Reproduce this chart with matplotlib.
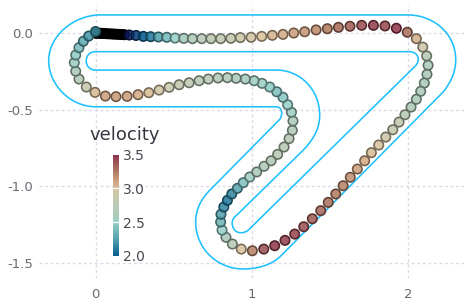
import numpy as np
import matplotlib
matplotlib.use('Agg')
import matplotlib.pyplot as plt
from matplotlib.colors import LinearSegmentedColormap, Normalize
from matplotlib.path import Path
from matplotlib.patches import PathPatch

# trajectory points, in driving order
x = [0.0, 0.003, 0.012, 0.027, 0.04, 0.05, 0.065, 0.08, 0.098, 0.115, 0.132, 0.15, 0.168, 0.185, 0.216, 0.259, 0.306, 0.353, 0.402, 0.456, 0.509, 0.565,
     0.62, 0.68, 0.739, 0.801, 0.866, 0.927, 0.996, 1.064, 1.132, 1.2, 1.269, 1.339, 1.412, 1.484, 1.555,
     1.629, 1.704, 1.779, 1.853, 1.926, 1.996, 2.054, 2.095, 2.12, 2.129, 2.122, 2.105, 2.082, 2.054, 2.02,
     1.981, 1.943, 1.903, 1.858, 1.813, 1.766, 1.723, 1.676, 1.631, 1.585, 1.538, 1.49, 1.442, 1.388, 1.333,
     1.275, 1.213, 1.147, 1.077, 1.004, 0.933, 0.876, 0.835, 0.81, 0.801, 0.803, 0.821, 0.844, 0.872, 0.908,
     0.946, 0.987, 1.032, 1.079, 1.124, 1.166, 1.207, 1.239, 1.26, 1.264, 1.254, 1.23, 1.2, 1.16, 1.115,
     1.066, 1.015, 0.959, 0.9, 0.844, 0.784, 0.722, 0.663, 0.599, 0.535, 0.471, 0.407, 0.341, 0.272, 0.202,
     0.131, 0.063, -0.003, -0.059, -0.106, -0.127, -0.136, -0.127, -0.106, -0.078, -0.044, 0.0]
y = [0.0, 0.0, -0.001, -0.002, -0.002, -0.003, -0.004, -0.005, -0.006, -0.007, -0.008, -0.009, -0.01, -0.011, -0.013, -0.016, -0.022, -0.024, -0.026, -0.028,
     -0.033, -0.035, -0.037, -0.037, -0.037, -0.037, -0.035, -0.03, -0.028, -0.022, -0.015, -0.009, 0.0, 0.008,
     0.02, 0.028, 0.037, 0.044, 0.05, 0.05, 0.046, 0.031, 0.005, -0.037, -0.092, -0.15, -0.211, -0.27, -0.327,
     -0.381, -0.433, -0.484, -0.534, -0.582, -0.632, -0.68, -0.732, -0.782, -0.835, -0.889, -0.943, -0.998,
     -1.052, -1.107, -1.161, -1.214, -1.266, -1.314, -1.355, -1.39, -1.412, -1.423, -1.412, -1.379, -1.335,
     -1.288, -1.235, -1.185, -1.137, -1.094, -1.052, -1.015, -0.978, -0.941, -0.908, -0.871, -0.835, -0.793,
     -0.745, -0.69, -0.636, -0.575, -0.518, -0.469, -0.42, -0.384, -0.353, -0.329, -0.312, -0.301, -0.296,
     -0.292, -0.294, -0.301, -0.312, -0.325, -0.338, -0.355, -0.373, -0.39, -0.403, -0.414, -0.416, -0.412,
     -0.388, -0.353, -0.301, -0.25, -0.194, -0.144, -0.096, -0.054, -0.02, 0.01]
velocity = [1.0, 1.05, 1.1, 1.15, 1.2, 1.25, 1.3, 1.35, 1.4, 1.45, 1.5, 1.55, 1.6, 1.7, 1.85, 1.92, 2.0, 2.1, 2.25, 2.38, 2.5, 2.58,
            2.65, 2.72, 2.78, 2.82, 2.88, 2.92, 2.96, 3.0, 3.05, 3.08, 3.12, 3.16, 3.2, 3.25, 3.3,
            3.35, 3.4, 3.45, 3.42, 3.48, 3.28, 3.06, 2.92, 2.75, 2.62, 2.6, 2.6, 2.6, 2.62, 2.65,
            2.72, 2.82, 2.88, 2.92, 2.98, 3.02, 3.08, 3.12, 3.18, 3.22, 3.25, 3.28, 3.32, 3.36, 3.4,
            3.43, 3.45, 3.47, 3.4, 3.22, 3.0, 2.75, 2.6, 2.5, 2.35, 2.25, 2.15, 2.1, 2.15, 2.28,
            2.42, 2.55, 2.6, 2.65, 2.68, 2.72, 2.75, 2.72, 2.68, 2.62, 2.55, 2.5, 2.45, 2.42, 2.47,
            2.52, 2.55, 2.58, 2.6, 2.65, 2.68, 2.72, 2.75, 2.8, 2.85, 2.9, 2.95, 3.02, 3.08, 3.12,
            3.14, 3.12, 3.02, 2.88, 2.7, 2.6, 2.55, 2.48, 2.4, 2.3, 2.22, 2.2]

# track limits as straight runs and bezier corners
outer_verts = [(0.03, 0.118), (2.0, 0.118),
               (2.16, 0.118), (2.306, 0.0), (2.306, -0.176),
               (2.306, -0.26), (2.27, -0.33), (2.225, -0.386),
               (1.181, -1.462),
               (1.12, -1.52), (1.03, -1.542), (0.946, -1.542),
               (0.78, -1.542), (0.641, -1.41), (0.641, -1.233),
               (0.641, -1.15), (0.68, -1.08), (0.733, -1.026),
               (1.175, -0.569),
               (1.2, -0.545), (1.2, -0.482), (1.157, -0.482),
               (0.0, -0.482),
               (-0.16, -0.482), (-0.30, -0.34), (-0.30, -0.18),
               (-0.30, -0.02), (-0.14, 0.118), (0.03, 0.118)]
outer_segs = ['M', 'L', 'C', 'C', 'C', 'C', 'C', 'C', 'L', 'C', 'C', 'C', 'C', 'C', 'C', 'C', 'C', 'C', 'L',
              'C', 'C', 'C', 'L', 'C', 'C', 'C', 'C', 'C', 'C']
inner_verts = [(0.0, -0.122), (2.011, -0.122),
               (2.06, -0.122), (2.09, -0.175), (2.043, -0.22),
               (0.978, -1.288),
               (0.94, -1.32), (0.875, -1.31), (0.875, -1.24),
               (0.875, -1.22), (0.885, -1.205), (0.904, -1.19),
               (1.33, -0.765),
               (1.41, -0.68), (1.435, -0.61), (1.435, -0.536),
               (1.435, -0.37), (1.31, -0.242), (1.157, -0.242),
               (0.0, -0.242),
               (-0.08, -0.242), (-0.08, -0.122), (0.0, -0.122)]
inner_segs = ['M', 'L', 'C', 'C', 'C', 'L', 'C', 'C', 'C', 'C', 'C', 'C', 'L', 'C', 'C', 'C', 'C', 'C', 'C', 'L',
              'C', 'C', 'C']

x_ticks = [0, 1, 2]
y_ticks = [0.0, -0.5, -1.0, -1.5]
y_labels = ['0.0', '-0.5', '-1.0', '-1.5']
cbar_ticks = [2.0, 2.5, 3.0, 3.5]
cbar_labels = ['2.0', '2.5', '3.0', '3.5']

W, H = 467, 304
vmin, vmax = 1.0, 3.7
stops = [(1.0, '#000000'), (1.72, '#000000'), (1.85, '#0a1a5c'), (2.0, '#005a8c'), (2.25, '#4f9fab'),
         (2.5, '#93cfc8'), (2.6, '#a8c8b9'), (2.9, '#c6c6aa'), (3.0, '#d8c098'), (3.1, '#cfa47f'),
         (3.25, '#b07a5e'), (3.5, '#8b2f45'), (3.7, '#6d0f20')]
cmap = LinearSegmentedColormap.from_list('track', [((v - vmin) / (vmax - vmin), c) for v, c in stops])
norm = Normalize(vmin, vmax)

fig = plt.figure(figsize=(W / 100, H / 100), dpi=100)
ax = fig.add_axes([39 / W, 1 - 278 / H, (464 - 39) / W, (278 - 5) / H])
ax.set_xlim(-0.362, 2.359)
ax.set_ylim(-1.601, 0.183)
for s in ax.spines.values():
    s.set_visible(False)
ax.set_xticks(x_ticks)
ax.set_yticks(y_ticks)
ax.set_yticklabels(y_labels)
ax.tick_params(length=0, labelsize=9.5, labelcolor='#6e6872', pad=4)
ax.tick_params(axis='x', pad=7)
ax.grid(True, color='#dcd8e8', lw=1, ls=(0, (2, 2)))
ax.set_axisbelow(True)

codes = {'M': Path.MOVETO, 'L': Path.LINETO, 'C': Path.CURVE4}
for verts, segs in [(outer_verts, outer_segs), (inner_verts, inner_segs)]:
    ax.add_patch(PathPatch(Path(verts, [codes[c] for c in segs]), fill=False, ec='#1ec0ff', lw=1.15, zorder=2))

rgba = cmap(norm(velocity))
face = rgba.copy()
face[:, 3] = 0.85
edge = rgba.copy()
edge[:, :3] = rgba[:, :3] * 0.55
ax.scatter(x, y, s=46, c=face, edgecolors=edge, linewidths=1.15, zorder=3)

# colour key
cax = fig.add_axes([113 / W, 1 - 255.7 / H, 6 / W, 101 / H])
grad = np.linspace(2.0, 3.5, 40).reshape(-1, 1)
cax.imshow(grad, origin='lower', aspect='auto', extent=[0, 1, 2.0, 3.5], cmap=cmap, norm=norm, alpha=0.95)
for s in cax.spines.values():
    s.set_visible(False)
cax.set_xticks([])
cax.yaxis.tick_right()
cax.set_yticks(cbar_ticks)
cax.set_yticklabels(cbar_labels)
cax.tick_params(length=0, labelsize=10, labelcolor='#4c4650', pad=3)
for v in [2.5, 3.0]:
    cax.axhline(v, color='white', lw=0.9)

fig.text(125 / W, 1 - 135 / H, 'velocity', fontsize=13, color='#3a3340', ha='center', va='center')

fig.savefig('out.png', dpi=100)
